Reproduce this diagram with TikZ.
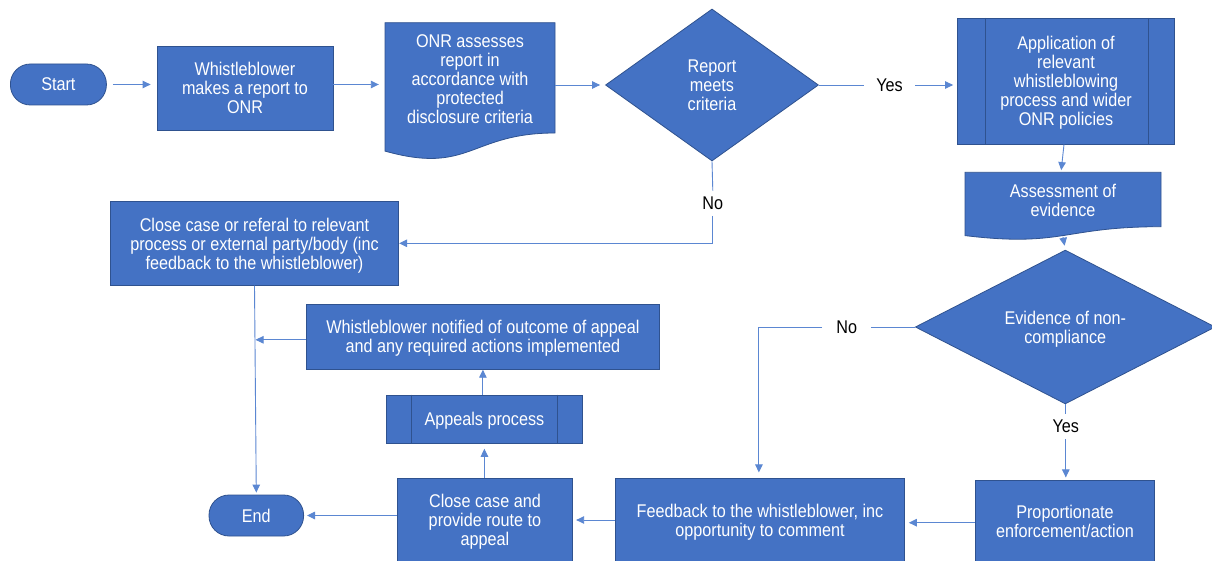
\documentclass[tikz,border=0pt]{standalone}
\usepackage{fontspec}
\setmainfont[FakeStretch=0.88]{Liberation Sans}
\usetikzlibrary{shapes.geometric,arrows.meta}
\definecolor{boxfill}{HTML}{4472C4}
\definecolor{boxline}{HTML}{2F528F}
\definecolor{conn}{HTML}{5B87D2}
\tikzset{
  every node/.style={font=\fontsize{18.4}{19}\selectfont},
  base/.style={draw=boxline, line width=0.8pt, fill=boxfill, text=white, align=center, inner sep=0pt, text depth=0pt},
  proc/.style={base, rectangle},
  term/.style={base, rectangle, rounded corners=20pt},
  decis/.style={base, diamond},
  docnode/.style={rectangle, text=white, align=center, inner sep=0pt, text depth=0pt},
  docshape/.style={draw=boxline, line width=0.8pt, fill=boxfill},
  conn/.style={draw=conn, line width=0.9pt, -{Triangle[length=8pt,width=7.5pt]}},
  plain/.style={draw=conn, line width=0.9pt},
  lbl/.style={fill=white, text=black, inner xsep=12pt, inner ysep=5pt},
}
\begin{document}
\begin{tikzpicture}[x=1pt,y=-1pt]
\useasboundingbox[fill=white] (0,0) rectangle (1212,561);

% nodes
\node[term, minimum width=96pt, minimum height=41pt] (start) at (58.4,84.5) {Start};
\node[proc, minimum width=176pt, minimum height=84pt] (wb) at (245,88) {Whistleblower\\makes a report to\\ONR};

% ONR document shape
\path[docshape] (385,22.7) -- (555,22.7) -- (555,133) .. controls (470,133) and (470,175) .. (385,151.1) -- cycle;
\node[docnode, minimum width=170pt, minimum height=113.6pt] (onr) at (470,79.5) {ONR assesses\\report in\\accordance with\\protected\\disclosure criteria};

\node[decis, minimum width=213pt, minimum height=152pt] (crit) at (712,85) {Report\\meets\\criteria};

\node[proc, minimum width=217pt, minimum height=125.7pt] (app) at (1066,81.2) {Application of\\relevant\\whistleblowing\\process and wider\\ONR policies};
\draw[boxline, line width=0.8pt] ([xshift=28pt]app.north west) -- ([xshift=28pt]app.south west);
\draw[boxline, line width=0.8pt] ([xshift=-27pt]app.north east) -- ([xshift=-27pt]app.south east);

% Assessment document shape
\path[docshape] (965,172.3) -- (1161,172.3) -- (1161,226.7) .. controls (1063,226.7) and (1063,247.4) .. (965,235.6) -- cycle;
\node[docnode, minimum width=196pt, minimum height=55.4pt] (assess) at (1063,200) {Assessment of\\evidence};

\node[decis, minimum width=300pt, minimum height=121.3pt] (evid) at (1065.3,327) {Evidence of non-\\compliance};

\node[proc, minimum width=288.4pt, minimum height=83.6pt] (closeref) at (254.5,243.5) {Close case or referal to relevant\\process or external party/body (inc\\feedback to the whistleblower)};

\node[proc, minimum width=352.3pt, minimum height=65pt] (notif) at (482.9,336.8) {Whistleblower notified of outcome of appeal\\and any required actions implemented};

\node[proc, minimum width=195.5pt, minimum height=48.3pt] (appeals) at (484.4,419.2) {Appeals process};
\draw[boxline, line width=0.8pt] ([xshift=25pt]appeals.north west) -- ([xshift=25pt]appeals.south west);
\draw[boxline, line width=0.8pt] ([xshift=-25pt]appeals.north east) -- ([xshift=-25pt]appeals.south east);

\node[term, minimum width=94.6pt, minimum height=41pt] (end) at (256.3,515.5) {End};

\node[proc, minimum width=175.5pt, minimum height=83pt] (ccroute) at (485,519.5) {Close case and\\provide route to\\appeal};

\node[proc, minimum width=288.8pt, minimum height=82.3pt] (feedback) at (760,520) {Feedback to the whistleblower, inc\\opportunity to comment};

\node[proc, minimum width=178.8pt, minimum height=80.3pt] (prop) at (1064.9,521) {Proportionate\\enforcement/action};

% labels
\node[lbl] (yes1) at (889.6,85) {Yes};
\node[lbl, inner xsep=6pt, inner ysep=6pt] (no1) at (712.8,203.3) {No};
\node[lbl, inner xsep=14pt] (no2) at (846.7,327) {No};
\node[lbl, inner xsep=8pt, inner ysep=6pt] (yes2) at (1065.8,426.7) {Yes};

\coordinate (nocorner1) at (712.8,243.3);
\coordinate (nocorner2) at (758.9,327);

% connectors
\draw[conn, shorten <=6pt, shorten >=6pt] (start.east) -- (start.east -| wb.west);
\draw[conn, shorten >=6pt] (wb.east |- start.east) -- (onr.west |- start.east);
\draw[conn, shorten >=5pt] (onr.east |- crit.west) -- (crit.west);
\draw[plain] (crit.east) -- (yes1.west);
\draw[conn, shorten >=4pt] (yes1.east) -- (app.west |- yes1.east);
\draw[conn, shorten >=2pt] ([xshift=-2pt]app.south) -- ([xshift=-2pt]assess.north);
\draw[conn, shorten >=4pt] ([yshift=-9pt]assess.south) -- (evid.north);
\draw[plain] (crit.south) -- (no1.north);
\draw[conn] (no1.south) -- (nocorner1) -- (closeref.east |- nocorner1);
\draw[conn, shorten >=2pt] (closeref.south) -- (end.north);
\draw[conn, shorten >=1pt] ([yshift=-3pt]notif.west) -- ([yshift=-3pt]notif.west -| closeref.south);
\draw[conn] (appeals.north -| notif.south) -- (notif.south);
\draw[conn, shorten >=5pt] (ccroute.north -| appeals.south) -- (appeals.south);
\draw[conn, shorten >=3pt] ([yshift=4pt]ccroute.west) -- ([yshift=4pt]ccroute.west -| end.east);
\draw[conn, shorten >=3pt] (feedback.west) -- (feedback.west -| ccroute.east);
\draw[plain] (evid.west) -- (no2.east);
\draw[conn, shorten >=6pt] (no2.west) -- (nocorner2) -- (nocorner2 |- feedback.north);
\draw[plain] ([xshift=0.5pt]evid.south) -- ([xshift=0.5pt]evid.south |- yes2.north);
\draw[conn, shorten >=3pt] ([xshift=0.5pt]evid.south |- yes2.south) -- ([xshift=0.5pt]evid.south |- prop.north);
\draw[conn, shorten >=4pt] ([yshift=-1.7pt]prop.west) -- ([yshift=-1.7pt]prop.west -| feedback.east);
\end{tikzpicture}
\end{document}
